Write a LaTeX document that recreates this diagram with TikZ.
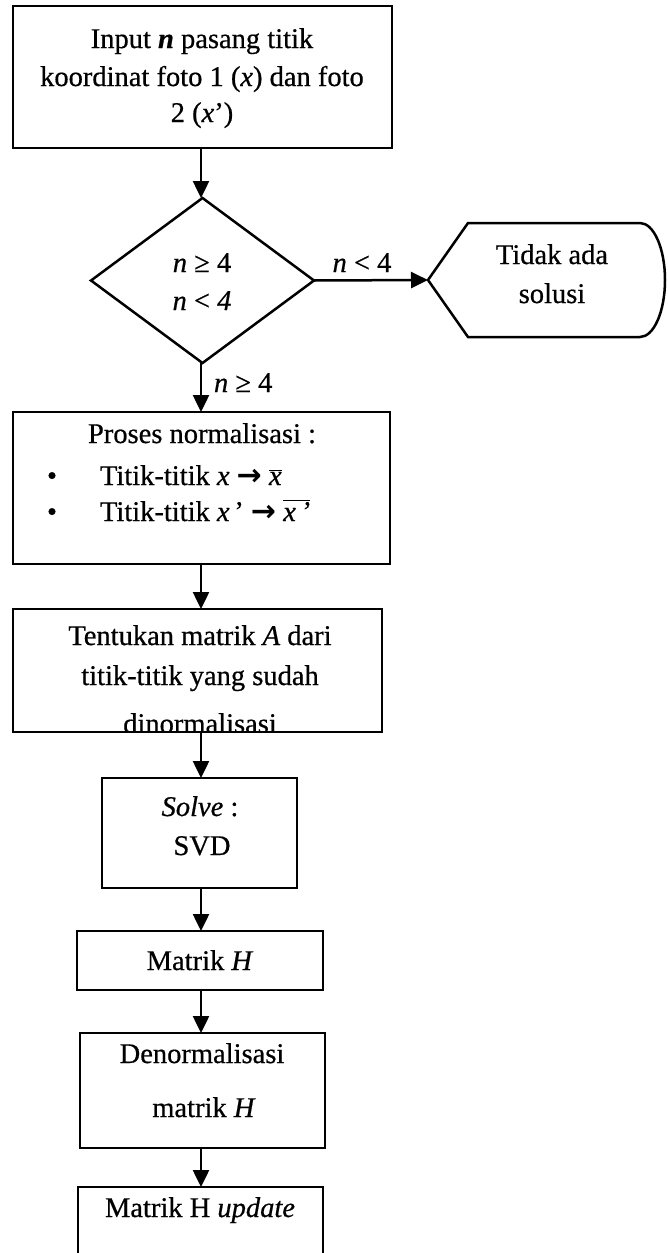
\documentclass[tikz,border=0pt]{standalone}
\usepackage{fontspec}
\setmainfont[FakeBold=0.6]{Liberation Serif}
\newfontfamily\arrowfont{DejaVu Sans Bold}
\usetikzlibrary{arrows.meta,shapes.geometric}
\newcommand{\barx}[1]{\ensuremath{\overline{\mbox{\textit{#1}}}}}
\newcommand{\thickarrow}{{\arrowfont\fontsize{30}{38}\selectfont →}}
\begin{document}
\begin{tikzpicture}[x=1pt,y=-1pt,
  every node/.style={font=\fontsize{28.5}{38}\selectfont, inner sep=0pt, outer sep=0pt},
  boxnode/.style={draw, line width=2.5pt},
  txt/.style={anchor=base},
  flow/.style={line width=2.5pt, -{Triangle[width=16pt,length=17pt]}},
]
\clip (0,0) rectangle (667,1253);
\coordinate (col) at (201,0);
% box 1
\node[boxnode, minimum width=379pt, minimum height=142pt] (b1) at (202.5,77) {};
\node[txt] (b1a) at (202,48) {Input \textbf{\textit{n}} pasang titik};
\node[txt] (b1b) at (202,86) {koordinat foto 1 (\textit{x}) dan foto};
\node[txt] (b1c) at (202,122) {2 (\textit{x}’)};
% decision
\node[draw, diamond, line width=2.5pt, minimum width=223pt, minimum height=165pt] (dia) at (202.5,280.5) {};
\node[txt] (d1) at (202,272) {\textit{n} ≥ 4};
\node[txt] (d2) at (202,310) {\textit{n} < \textit{4}};
% terminal
\draw[line width=2.5pt] (428,280) coordinate (hexW) -- (468,223) -- (640,223)
  arc[start angle=90,end angle=-90,x radius=25pt,y radius=57pt] -- (468,337) -- cycle;
\node[txt] (t1) at (552,264) {Tidak ada};
\node[txt] (t2) at (552,303) {solusi};
% box 2
\node[boxnode, minimum width=377pt, minimum height=152pt] (b2) at (201.5,488) {};
\node[txt] (b2a) at (202,443) {Proses normalisasi :};
\node[txt] (b2d1) at (52,485) {•};
\node[txt, anchor=base west] (b2b) at (100,485) {Titik-titik \textit{x} \thickarrow\ \barx{x}};
\node[txt] (b2d2) at (52,521) {•};
\node[txt, anchor=base west] (b2c) at (100,521) {Titik-titik \textit{x}\,’ \thickarrow\ \barx{x\,’}};
% box 3
\node[boxnode, minimum width=369pt, minimum height=123pt] (b3) at (197.5,670.5) {};
\begin{scope}
\clip (b3.north west) rectangle (b3.south east);
\node[txt] (b3a) at (200,645) {Tentukan matrik \textit{A} dari};
\node[txt] (b3b) at (200,685) {titik-titik yang sudah};
\node[txt] (b3c) at (200,733) {dinormalisasi};
\end{scope}
% box 4
\node[boxnode, minimum width=195pt, minimum height=110pt] (b4) at (199.5,833) {};
\node[txt] (b4a) at (200,816) {\textit{Solve} :};
\node[txt] (b4b) at (202,855) {SVD};
% box 5
\node[boxnode, minimum width=246pt, minimum height=59pt] (b5) at (200,960.5) {};
\node[txt] (b5a) at (200,970) {Matrik \textit{H}};
% box 6
\node[boxnode, minimum width=245pt, minimum height=115pt] (b6) at (202.5,1090.5) {};
\node[txt] (b6a) at (202,1063) {Denormalisasi};
\node[txt] (b6b) at (204,1117) {matrik \textit{H}};
% box 7
\node[boxnode, minimum width=245pt, minimum height=86pt] (b7) at (200.5,1230) {};
\node[txt] (b7a) at (200,1217) {Matrik H \textit{update}};
% connectors
\draw[flow] (b1.south -| col) -- (dia.north -| col);
\draw[flow] (dia.east) -- (hexW);
\node[txt] (lno) at (362,272) {\textit{n} < 4};
\draw[flow] (dia.south -| col) -- (b2.north -| col);
\node[txt, anchor=base west] (lyes) at (214,392) {\textit{n} ≥ 4};
\draw[flow] (b2.south -| col) -- (b3.north -| col);
\draw[flow] (b3.south -| col) -- (b4.north -| col);
\draw[flow] (b4.south -| col) -- (b5.north -| col);
\draw[flow] (b5.south -| col) -- (b6.north -| col);
\draw[flow] (b6.south -| col) -- (b7.north -| col);
\end{tikzpicture}
\end{document}
